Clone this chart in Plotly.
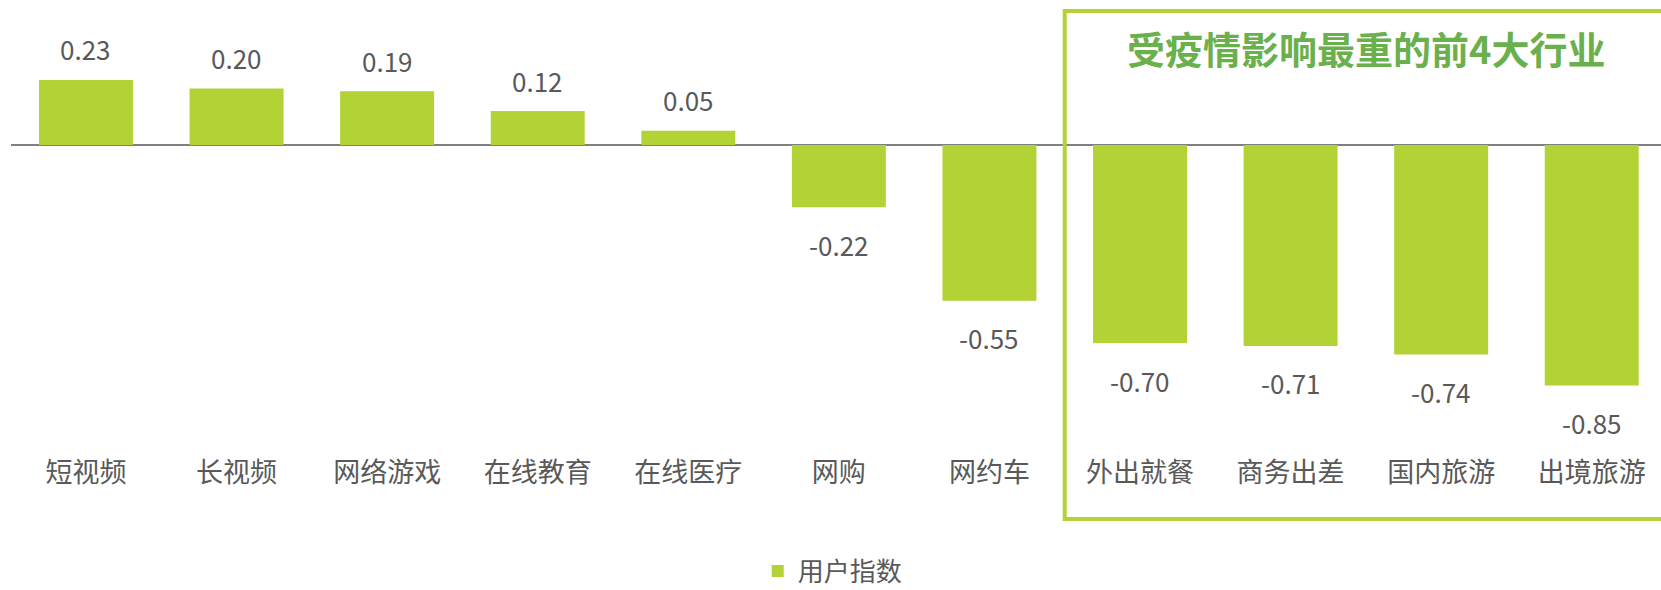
import plotly.graph_objects as go

categories = ["短视频", "长视频", "网络游戏", "在线教育", "在线医疗", "网购", "网约车",
              "外出就餐", "商务出差", "国内旅游", "出境旅游"]
values = [0.23, 0.20, 0.19, 0.12, 0.05, -0.22, -0.55, -0.70, -0.71, -0.74, -0.85]
series_name = "用户指数"
box_title = "受疫情影响最重的前4大行业"
top_n = 4

BAR = "#b2d235"
TXT = "#595959"
FONT = "Noto Sans CJK SC"

# layout geometry (pixels)
W, H = 1661, 590
L, B_PLOT = 11, 454          # plot left edge, plot bottom edge
ZERO_Y, PX_PER_UNIT = 145, 283
X_RANGE = [-0.498, 10.46]

def py(pix):  # pixel y -> paper y
    return (B_PLOT - pix) / B_PLOT

def px(xv):   # data x -> paper x
    return (xv - X_RANGE[0]) / (X_RANGE[1] - X_RANGE[0])

fig = go.Figure()
fig.add_trace(go.Bar(
    x=categories, y=values, name=series_name,
    marker=dict(color=BAR, line=dict(width=0)),
    showlegend=True,
))

annotations = []
for c, v in zip(categories, values):
    annotations.append(dict(
        x=c, y=v, xref="x", yref="y", text=f"{v:.2f}", showarrow=False,
        yanchor="middle", xanchor="center",
        yshift=31 if v >= 0 else -37,
        font=dict(family=FONT, size=26, color=TXT),
    ))

n = len(categories)
first_idx = n - top_n
annotations.append(dict(
    x=(first_idx + n - 1) / 2, y=py(47), xref="x", yref="paper",
    text=f"<b>{box_title}</b>", showarrow=False,
    xanchor="center", yanchor="middle",
    font=dict(family=FONT, size=38, color="#6ab04c"),
))

fig.add_shape(
    type="rect", xref="paper", yref="paper",
    x0=px(first_idx - 0.5), x1=1.02, y0=py(519), y1=py(11),
    line=dict(color=BAR, width=4), fillcolor="rgba(0,0,0,0)", layer="above",
)

fig.update_layout(
    width=W, height=H,
    margin=dict(l=L, r=0, t=0, b=H - B_PLOT, autoexpand=False),
    paper_bgcolor="white", plot_bgcolor="white",
    bargap=0.376,
    font=dict(family=FONT, size=26, color=TXT),
    annotations=annotations,
    legend=dict(
        orientation="h", x=0.498, xanchor="center", y=py(571), yanchor="middle",
        font=dict(family=FONT, size=26, color=TXT),
        itemwidth=30,
    ),
    xaxis=dict(
        type="category", range=X_RANGE, automargin=False,
        showgrid=False, showline=False, zeroline=False,
        ticks="", tickfont=dict(family=FONT, size=27, color=TXT),
    ),
    yaxis=dict(
        range=[-(B_PLOT - ZERO_Y) / PX_PER_UNIT, ZERO_Y / PX_PER_UNIT],
        showgrid=False, showticklabels=False, showline=False, automargin=False,
        zeroline=True, zerolinecolor="#808080", zerolinewidth=1.5,
        layer="above traces",
    ),
)

fig.write_html(
    "out.html",
    config={"displayModeBar": False},
    post_script="document.body.style.margin='0';document.body.style.overflow='hidden';",
)
